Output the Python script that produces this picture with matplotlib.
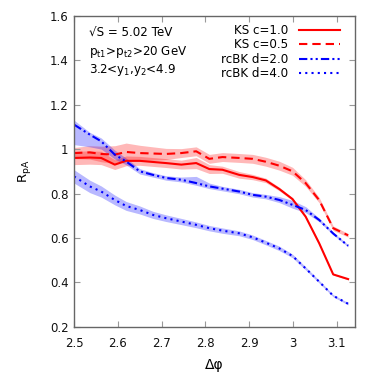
import numpy as np
import matplotlib
matplotlib.use("Agg")
import matplotlib.pyplot as plt

plt.rcParams['font.family'] = ['DejaVu Sans']
plt.rcParams['mathtext.default'] = 'regular'

# delta phi grid
dphi = [2.500, 2.536, 2.562, 2.593, 2.619, 2.650, 2.680, 2.710, 2.745, 2.779, 2.809,
        2.839, 2.877, 2.908, 2.938, 2.969, 2.999, 3.029, 3.060, 3.092, 3.126]

ks_c10 = [0.960, 0.962, 0.960, 0.930, 0.947, 0.947, 0.942, 0.937, 0.930, 0.937, 0.910,
          0.907, 0.884, 0.874, 0.859, 0.820, 0.775, 0.696, 0.576, 0.436, 0.415]
ks_c10_err = [0.030, 0.030, 0.030, 0.022, 0.022, 0.020, 0.020, 0.020, 0.020, 0.025, 0.020,
              0.016, 0.015, 0.012, 0.010, 0.008, 0.006, 0.005, 0.004, 0.003, 0.003]

ks_c05 = [0.982, 0.985, 0.978, 0.975, 0.987, 0.982, 0.980, 0.978, 0.982, 0.990, 0.956,
          0.964, 0.960, 0.956, 0.943, 0.925, 0.900, 0.847, 0.770, 0.644, 0.612]
ks_c05_err = [0.025, 0.030, 0.035, 0.040, 0.040, 0.035, 0.030, 0.025, 0.020, 0.020, 0.020,
              0.020, 0.020, 0.020, 0.020, 0.020, 0.018, 0.015, 0.012, 0.010, 0.008]

bk_d20 = [1.110, 1.065, 1.035, 0.975, 0.944, 0.900, 0.884, 0.870, 0.862, 0.847, 0.832,
          0.822, 0.809, 0.794, 0.786, 0.771, 0.749, 0.726, 0.681, 0.620, 0.565]
bk_d20_lo = [0.090, 0.055, 0.035, 0.020, 0.015, 0.012, 0.010, 0.010, 0.010, 0.010, 0.010,
             0.010, 0.010, 0.010, 0.010, 0.012, 0.015, 0.012, 0.008, 0.006, 0.005]
bk_d20_hi = [0.020, 0.010, 0.015, 0.020, 0.015, 0.012, 0.010, 0.010, 0.012, 0.030, 0.015,
             0.010, 0.010, 0.010, 0.010, 0.015, 0.020, 0.015, 0.008, 0.006, 0.005]

bk_d40 = [0.877, 0.832, 0.809, 0.771, 0.744, 0.726, 0.704, 0.689, 0.674, 0.659, 0.644,
          0.633, 0.621, 0.603, 0.579, 0.553, 0.519, 0.463, 0.403, 0.340, 0.304]
bk_d40_err = [0.030, 0.028, 0.025, 0.022, 0.020, 0.018, 0.016, 0.015, 0.014, 0.013, 0.012,
              0.012, 0.011, 0.010, 0.010, 0.010, 0.008, 0.007, 0.006, 0.005, 0.005]

x = np.array(dphi)
fig = plt.figure(figsize=(3.74, 3.74), dpi=100)
ax = fig.add_axes([0.198, 0.126, 0.751, 0.832])

c10 = np.array(ks_c10); e10 = np.array(ks_c10_err)
c05 = np.array(ks_c05); e05 = np.array(ks_c05_err)
d20 = np.array(bk_d20)
d40 = np.array(bk_d40); e40 = np.array(bk_d40_err)

ax.fill_between(x, c10 - e10, c10 + e10, color='red', alpha=0.28, lw=0)
ax.fill_between(x, c05 - e05, c05 + e05, color='red', alpha=0.28, lw=0)
ax.fill_between(x, d20 - np.array(bk_d20_lo), d20 + np.array(bk_d20_hi), color='blue', alpha=0.28, lw=0)
ax.fill_between(x, d40 - e40, d40 + e40, color='blue', alpha=0.28, lw=0)

lw = 1.5
ax.plot(x, c10, color='red', lw=lw, label='KS c=1.0')
ax.plot(x, c05, color='red', lw=lw, linestyle=(0, (4, 2.4)), label='KS c=0.5')
ax.plot(x, d20, color='blue', lw=lw, linestyle=(0, (4, 1.5, 1, 1.5, 1, 1.5)), label='rcBK d=2.0')
ax.plot(x, d40, color='blue', lw=lw, linestyle=(0, (1, 2)), label='rcBK d=4.0')

ax.set_xlim(2.5, np.pi)
ax.set_ylim(0.2, 1.6)
ax.set_xticks([2.5, 2.6, 2.7, 2.8, 2.9, 3.0, 3.1])
ax.set_xticklabels(['2.5', '2.6', '2.7', '2.8', '2.9', '3', '3.1'])
ax.set_yticks([0.2, 0.4, 0.6, 0.8, 1.0, 1.2, 1.4, 1.6])
ax.set_yticklabels(['0.2', '0.4', '0.6', '0.8', '1', '1.2', '1.4', '1.6'])
ax.tick_params(direction='in', length=4.3, width=0.8, color='#999999',
               top=True, right=True, labelsize=8.5, labelcolor='#111111')
ax.tick_params(axis='x', pad=7)
ax.tick_params(axis='y', pad=4)
for s in ax.spines.values():
    s.set_color('#666666')
    s.set_linewidth(1.0)

ax.set_xlabel('Δφ', fontsize=10)
ax.set_ylabel('R$_{pA}$', fontsize=9.5)
ax.xaxis.set_label_coords(0.5, -0.1)
ax.yaxis.set_label_coords(-0.145, 0.5)

ax.text(0.053, 0.945, '√S = 5.02 TeV', transform=ax.transAxes, fontsize=8.6, va='center')
ax.text(0.053, 0.884, 'p$_{t1}$>p$_{t2}$>20 GeV', transform=ax.transAxes, fontsize=8.6, va='center')
ax.text(0.053, 0.826, '3.2<y$_{1}$,y$_{2}$<4.9', transform=ax.transAxes, fontsize=8.6, va='center')

ax.legend(loc='upper right', frameon=False, fontsize=8.6, markerfirst=False,
          handlelength=3.4, handletextpad=0.9, labelspacing=0.12,
          borderaxespad=0.5, bbox_to_anchor=(0.985, 1.008))

fig.savefig('out.png', dpi=100)
